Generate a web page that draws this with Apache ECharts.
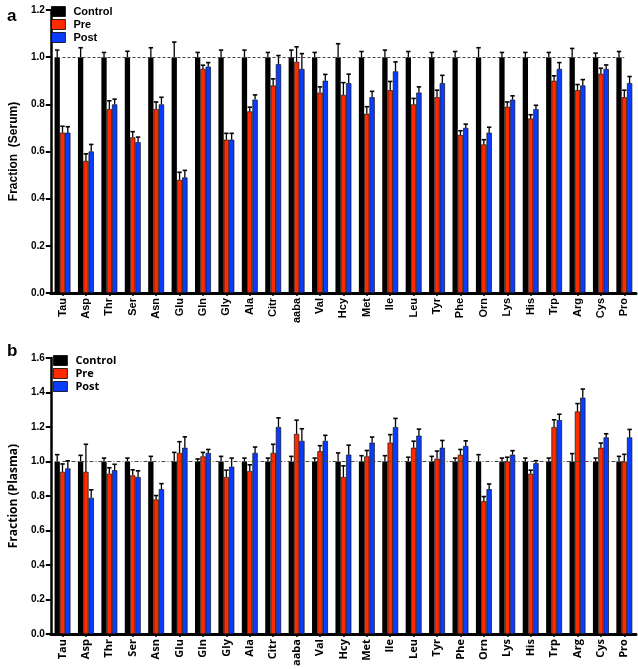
<!DOCTYPE html>
<html><head><meta charset="utf-8">
<script src="https://cdn.jsdelivr.net/npm/echarts@6/dist/echarts.min.js"></script>
<style>html,body{margin:0;padding:0;background:#fff}#c{width:638px;height:669px}</style>
</head><body><div id="c"></div>
<script>
const categories = ['Tau','Asp','Thr','Ser','Asn','Glu','Gln','Gly','Ala','Citr','aaba','Val','Hcy','Met','Ile','Leu','Tyr','Phe','Orn','Lys','His','Trp','Arg','Cys','Pro'];
const serumTicks = [0, 0.2, 0.4, 0.6, 0.8, 1.0, 1.2];
const plasmaTicks = [0, 0.2, 0.4, 0.6, 0.8, 1.0, 1.2, 1.4, 1.6];

const serumControl    = [1,1,1,1,1,1,1,1,1,1,1,1,1,1,1,1,1,1,1,1,1,1,1,1,1];
const serumControlErr = [0.03,0.04,0.02,0.025,0.04,0.064,0.02,0.03,0.03,0.02,0.03,0.02,0.057,0.024,0.03,0.024,0.02,0.024,0.04,0.02,0.02,0.02,0.037,0.017,0.024];
const serumPre        = [0.68,0.56,0.78,0.66,0.78,0.48,0.95,0.65,0.77,0.88,0.98,0.85,0.84,0.76,0.86,0.80,0.83,0.67,0.63,0.79,0.74,0.90,0.86,0.93,0.83];
const serumPreErr     = [0.027,0.03,0.035,0.024,0.03,0.032,0.016,0.027,0.018,0.028,0.064,0.024,0.052,0.03,0.037,0.025,0.03,0.018,0.02,0.02,0.016,0.021,0.024,0.023,0.03];
const serumPost       = [0.68,0.60,0.80,0.64,0.80,0.49,0.96,0.65,0.82,0.97,0.95,0.90,0.89,0.83,0.94,0.85,0.89,0.70,0.68,0.82,0.78,0.95,0.88,0.95,0.89];
const serumPostErr    = [0.025,0.03,0.022,0.021,0.03,0.03,0.017,0.027,0.02,0.037,0.065,0.027,0.038,0.025,0.04,0.024,0.033,0.016,0.023,0.016,0.016,0.027,0.025,0.017,0.028];

const plasmaControl    = [1,1,1,1,1,1,1,1,1,1,1,1,1,1,1,1,1,1,1,1,1,1,1,1,1];
const plasmaControlErr = [0.04,0.036,0.02,0.02,0.03,0.053,0.015,0.03,0.02,0.02,0.03,0.02,0.05,0.034,0.034,0.025,0.03,0.02,0.04,0.02,0.02,0.02,0.046,0.02,0.03];
const plasmaPre        = [0.94,0.94,0.93,0.92,0.78,1.05,1.03,0.91,0.945,1.05,1.16,1.06,0.91,1.03,1.11,1.08,1.017,1.04,0.77,1.00,0.93,1.20,1.29,1.08,1.00];
const plasmaPreErr     = [0.046,0.16,0.034,0.032,0.023,0.065,0.023,0.04,0.036,0.05,0.08,0.032,0.065,0.034,0.046,0.038,0.044,0.03,0.027,0.025,0.02,0.042,0.046,0.027,0.042];
const plasmaPost       = [0.96,0.79,0.95,0.91,0.84,1.08,1.05,0.97,1.05,1.20,1.12,1.12,1.04,1.11,1.20,1.15,1.08,1.09,0.84,1.04,0.99,1.24,1.37,1.14,1.14];
const plasmaPostErr    = [0.044,0.046,0.034,0.036,0.032,0.063,0.02,0.05,0.034,0.053,0.07,0.032,0.055,0.032,0.05,0.038,0.042,0.03,0.03,0.023,0.015,0.034,0.05,0.021,0.046];

const COLORS = {Control:'#000000', Pre:'#ff2a00', Post:'#0a3cff'};
const BW = 5.3;

function barSeries(name, data, xi) {
  return {
    name, type:'bar', xAxisIndex:xi, yAxisIndex:xi, data, barWidth:BW, barGap:'0%', z:2,
    itemStyle:{color:COLORS[name], borderColor:'#111', borderWidth:name==='Control'?0:0.7},
    emphasis:{disabled:true}, silent:true
  };
}
function errSeries(vals, errs, off, xi) {
  return {
    type:'custom', xAxisIndex:xi, yAxisIndex:xi, z:3, silent:true,
    data: vals.map((v,i)=>[i, v, v+errs[i]]),
    encode:{x:0, y:[1,2]},
    renderItem:(params, api)=>{
      const i = api.value(0);
      const p0 = api.coord([i, api.value(1)]);
      const p1 = api.coord([i, api.value(2)]);
      const x = p0[0] + off*BW;
      return {type:'group', children:[
        {type:'line', shape:{x1:x, y1:p0[1], x2:x, y2:p1[1]}, style:{stroke:'#000', lineWidth:1.3}},
        {type:'line', shape:{x1:x-2.2, y1:p1[1], x2:x+2.2, y2:p1[1]}, style:{stroke:'#000', lineWidth:1.6}}
      ]};
    }
  };
}
function refLine(xi, dash) {
  return {type:'line', xAxisIndex:xi, yAxisIndex:xi, data:[], z:1, silent:true,
    markLine:{symbol:'none', silent:true, label:{show:false},
      lineStyle:{color:'#444', width:1, type:dash},
      data:[[{coord:[0,1]},{coord:[categories.length-1,1]}]]}};
}
function xAxisCfg(gi, font) {
  return {type:'category', gridIndex:gi, data:categories,
    axisLine:{lineStyle:{color:'#000', width:3}},
    axisTick:{show:true, alignWithLabel:true, length:3, lineStyle:{color:'#000', width:1.5}},
    axisLabel:{interval:0, rotate:90, margin:5, color:'#000', fontWeight:'bold', fontSize:11, fontFamily:font}};
}
function yAxisCfg(gi, ticks, name, font, gap) {
  return {type:'value', gridIndex:gi, min:ticks[0], max:ticks[ticks.length-1], interval:0.2,
    name, nameLocation:'middle', nameGap:gap, nameRotate:90,
    nameTextStyle:{color:'#000', fontWeight:'bold', fontSize:12, fontFamily:font},
    axisLine:{show:true, lineStyle:{color:'#000', width:2.5}},
    axisTick:{show:true, length:5, lineStyle:{color:'#000', width:2}},
    splitLine:{show:false},
    axisLabel:{color:'#000', fontWeight:'bold', fontSize:10, margin:6, fontFamily:'Liberation Sans',
      formatter:v=>v.toFixed(1)}};
}
function legendCfg(top, left, font) {
  return {top, left, orient:'vertical', itemWidth:14, itemHeight:10, itemGap:2,
    icon:'rect', data:['Control','Pre','Post'], selectedMode:false,
    itemStyle:{borderColor:'#000', borderWidth:0.8},
    textStyle:{color:'#000', fontWeight:'bold', fontSize:11, fontFamily:font, padding:[0,0,0,3]}};
}

const chart = echarts.init(document.getElementById('c'), null, {renderer:'canvas'});
chart.setOption({
  animation:false,
  backgroundColor:'#fff',
  title:[
    {text:'a', left:2, top:3, textStyle:{fontSize:17, fontWeight:'bold', color:'#000', fontFamily:'Liberation Sans'}},
    {text:'b', left:2, top:338, textStyle:{fontSize:17, fontWeight:'bold', color:'#000', fontFamily:'Liberation Sans'}}
  ],
  legend:[legendCfg(1, 46, 'Liberation Sans'), legendCfg(350, 48, 'Open Sans')],
  grid:[
    {left:42, right:2, top:10, height:283},
    {left:42, right:2, top:358, height:279}
  ],
  xAxis:[xAxisCfg(0,'Liberation Sans'), xAxisCfg(1,'Open Sans')],
  yAxis:[yAxisCfg(0, serumTicks, 'Fraction  (Serum)', 'Liberation Sans', 30),
         yAxisCfg(1, plasmaTicks, 'Fraction (Plasma)', 'Open Sans', 28)],
  series:[
    refLine(0, [3,2]),
    barSeries('Control', serumControl, 0),
    barSeries('Pre', serumPre, 0),
    barSeries('Post', serumPost, 0),
    errSeries(serumControl, serumControlErr, -1, 0),
    errSeries(serumPre, serumPreErr, 0, 0),
    errSeries(serumPost, serumPostErr, 1, 0),
    refLine(1, [4,2,1,2]),
    barSeries('Control', plasmaControl, 1),
    barSeries('Pre', plasmaPre, 1),
    barSeries('Post', plasmaPost, 1),
    errSeries(plasmaControl, plasmaControlErr, -1, 1),
    errSeries(plasmaPre, plasmaPreErr, 0, 1),
    errSeries(plasmaPost, plasmaPostErr, 1, 1)
  ]
});
</script></body></html>
